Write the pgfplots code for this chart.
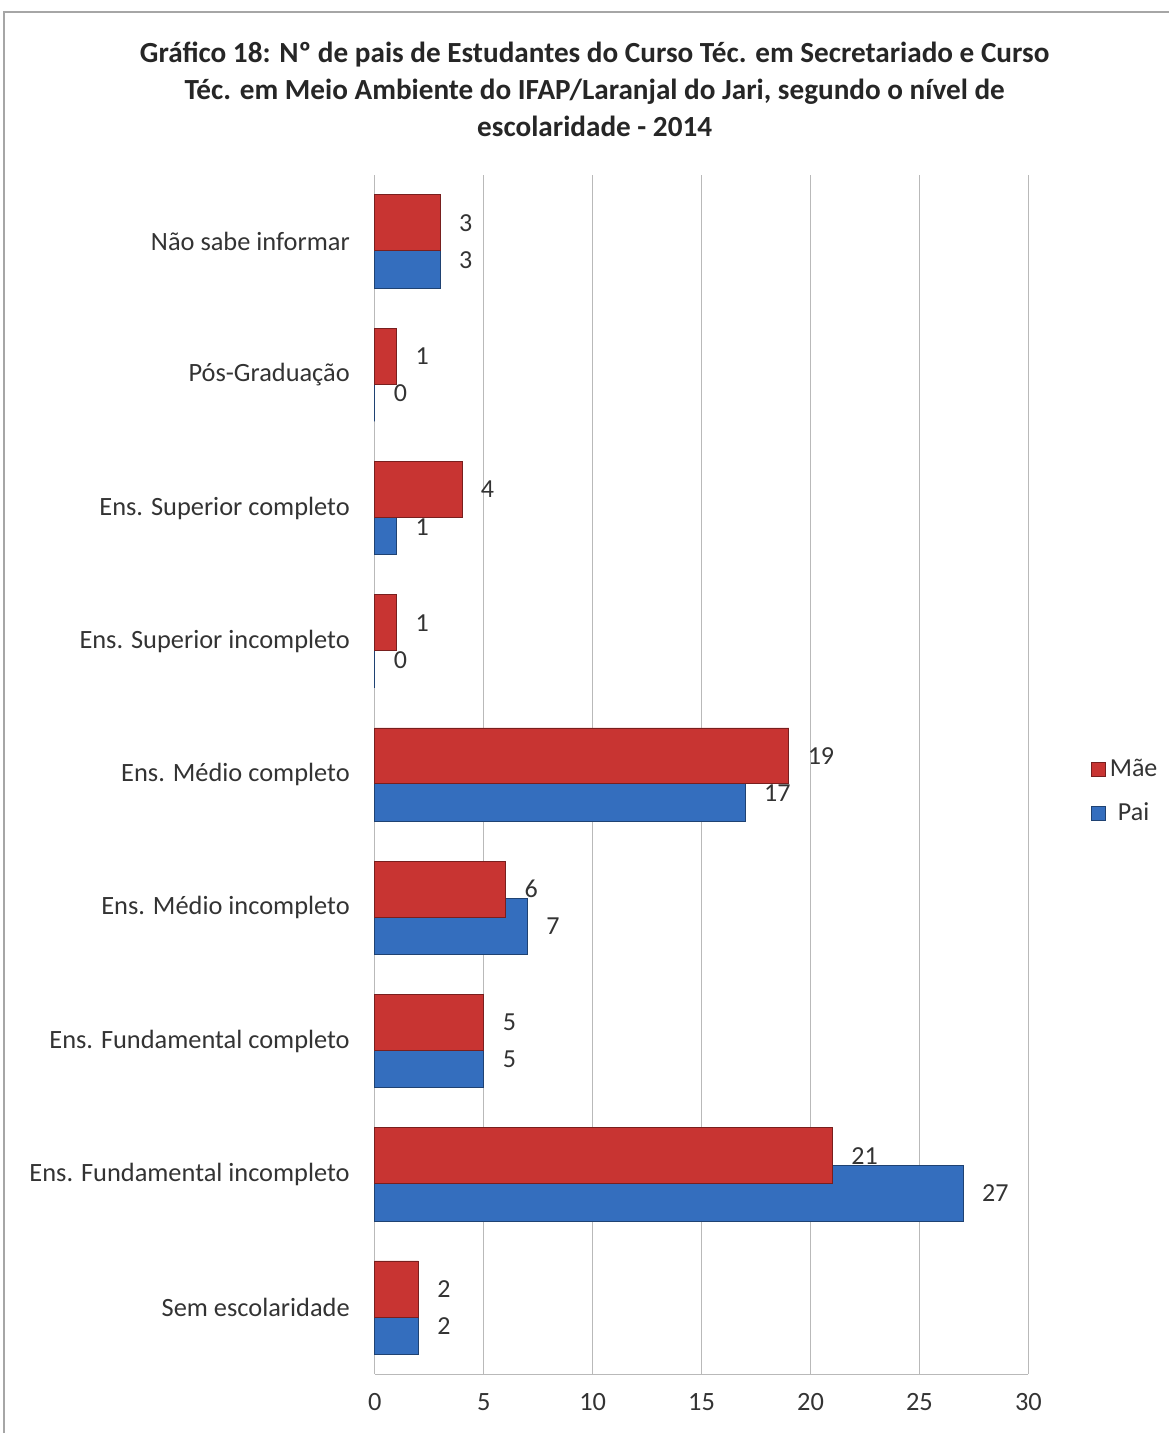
\documentclass[border=0pt]{standalone}
\usepackage{pgfplots}
\pgfplotsset{compat=1.18}
\usepackage{fontspec}
\setmainfont{Carlito}
\definecolor{mae}{RGB}{200,52,50}
\definecolor{pai}{RGB}{52,110,190}
\begin{document}
\begin{tikzpicture}
\path (0,0) rectangle (585pt,717pt);
\draw[gray!70, line width=0.8pt] (2pt,0) -- (2pt,711pt) -- (585pt,711pt);
\node[font=\bfseries\fontsize{14.6}{18.5}\selectfont, align=center, text=black!85] at (297.5pt,672.5pt)
 {Gráfico 18: Nº de pais de Estudantes do Curso Téc. em Secretariado e Curso\\Téc. em Meio Ambiente do IFAP/Laranjal do Jari, segundo o nível de\\escolaridade - 2014};
\begin{axis}[at={(187.5pt,29.5pt)}, anchor=south west, scale only axis,
 width=327pt, height=600pt,
 xmin=0, xmax=30, ymin=-0.5, ymax=8.5,
 xtick={0,5,...,30}, ytick={0,...,8},
 yticklabels={Sem escolaridade, Ens. Fundamental incompleto, Ens. Fundamental completo, Ens. Médio incompleto, Ens. Médio completo, Ens. Superior incompleto, Ens. Superior completo, Pós-Graduação, Não sabe informar},
 xmajorgrids, grid style={gray!55, line width=0.6pt},
 axis x line*=bottom, axis y line*=left,
 axis line style={gray!55, line width=0.6pt},
 major tick length=0pt,
 /pgf/number format/assume math mode=true,
 ticklabel style={font=\fontsize{13.2}{15}\selectfont, text=black!80},
 yticklabel style={xshift=-9pt},
 xticklabel style={yshift=-6pt},
 xbar, bar width=0.42,
 nodes near coords,
 every node near coord/.append style={font=\fontsize{13}{15}\selectfont, text=black!80, anchor=west, xshift=6pt},
 legend style={at={(1.086,0.486)}, anchor=west, draw=none, fill=none, font=\fontsize{13}{15}\selectfont, row sep=8pt, text=black!80},
 legend image code/.code={\fill[#1] (0pt,-3.5pt) rectangle (7pt,3.5pt);},
 reverse legend,
 clip=false,
]
\addplot[bar shift=-0.14, draw=pai!60!black, line width=0.4pt, fill=pai] coordinates {(2,0) (27,1) (5,2) (7,3) (17,4) (0,5) (1,6) (0,7) (3,8)};
\addlegendentry{Pai}
\addplot[bar shift=0.14, draw=mae!60!black, line width=0.4pt, fill=mae] coordinates {(2,0) (21,1) (5,2) (6,3) (19,4) (1,5) (4,6) (1,7) (3,8)};
\addlegendentry{Mãe}
\end{axis}
\end{tikzpicture}
\end{document}
